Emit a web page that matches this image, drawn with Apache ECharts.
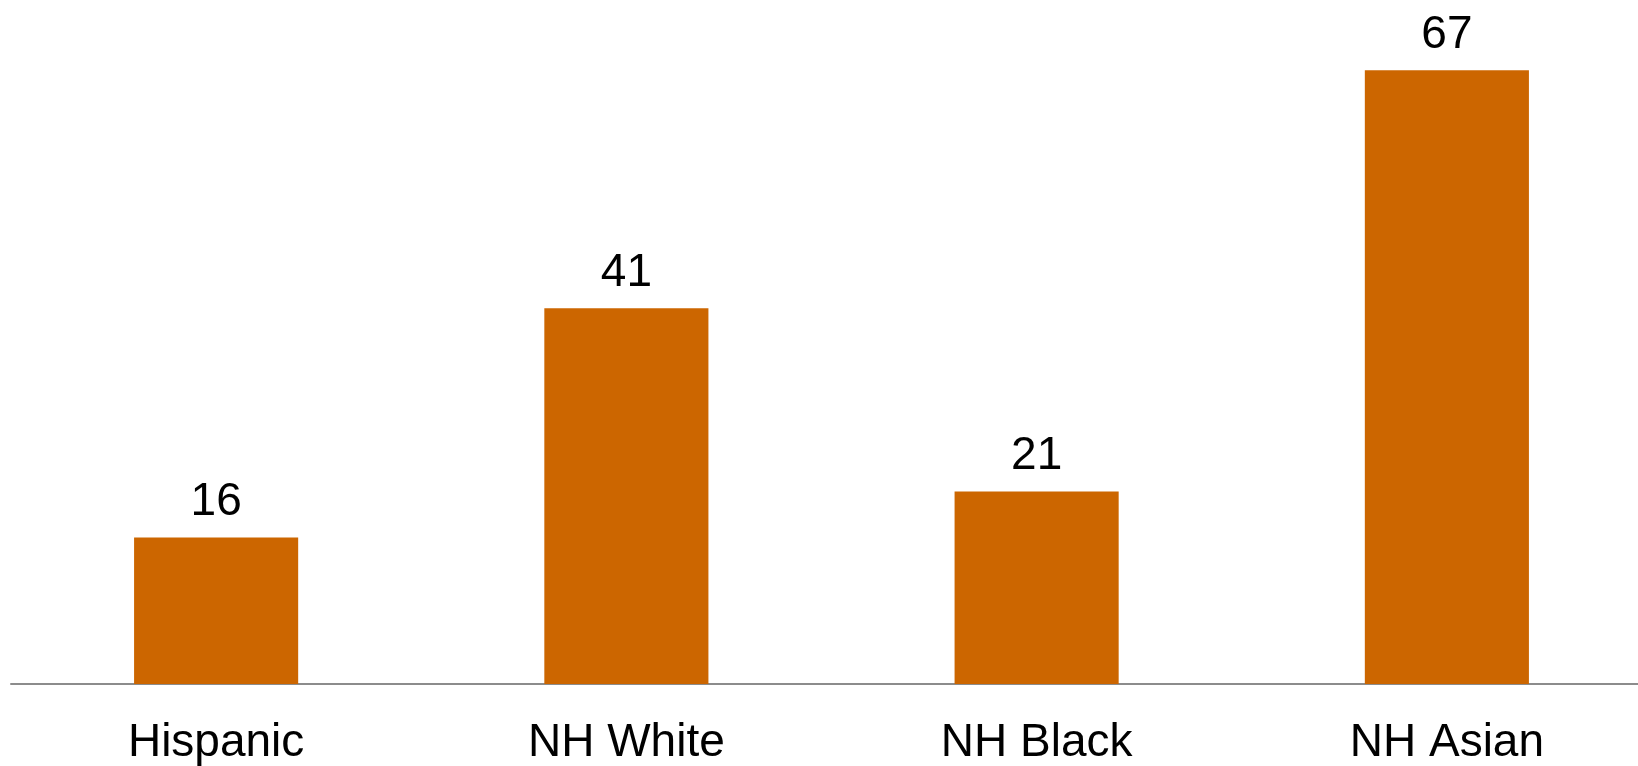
<!DOCTYPE html>
<html><head><meta charset="utf-8">
<script src="https://cdn.jsdelivr.net/npm/echarts@6/dist/echarts.min.js"></script>
<style>html,body{margin:0;padding:0;background:#fff;overflow:hidden;width:1638px;height:766px}#c{width:1652px;height:766px}</style>
</head><body><div id="c"></div>
<script>
const categories = ["Hispanic", "NH White", "NH Black", "NH Asian"];
const values = [16, 41, 21, 67];

const chart = echarts.init(document.getElementById('c'));
chart.setOption({
  animation: false,
  grid: { left: 11, right: 0, top: 6, bottom: 82, containLabel: false },
  xAxis: {
    type: 'category', data: categories,
    axisLine: { lineStyle: { color: '#8c8c8c', width: 2 } },
    axisTick: { show: false },
    axisLabel: { color: '#000', fontSize: 46, fontFamily: 'Liberation Sans, Arial, sans-serif', margin: 36 }
  },
  yAxis: { type: 'value', min: 0, max: 74, show: false, splitLine: { show: false } },
  series: [{
    type: 'bar', data: values, barWidth: '40%',
    itemStyle: { color: '#CC6600' },
    label: { show: true, position: 'top', distance: 12, color: '#000', fontSize: 46, fontFamily: 'Liberation Sans, Arial, sans-serif' }
  }]
});
</script></body></html>
